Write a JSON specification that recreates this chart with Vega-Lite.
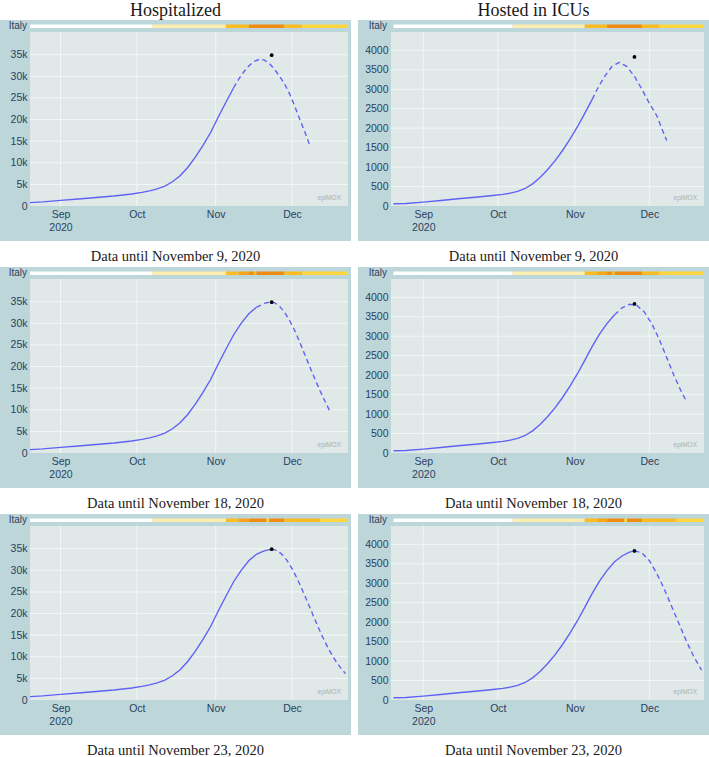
{
"$schema":"https://vega.github.io/schema/vega-lite/v6.json",
"background":"white",
"padding":{"top":2,"left":0,"right":0,"bottom":0},
"datasets":{
"curves":[
{"p":"H1","s":"o","d":"2020-08-20","v":770},{"p":"H1","s":"o","d":"2020-08-25","v":950},{"p":"H1","s":"o","d":"2020-09-01","v":1300},{"p":"H1","s":"o","d":"2020-09-08","v":1620},{"p":"H1","s":"o","d":"2020-09-15","v":1960},{"p":"H1","s":"o","d":"2020-09-22","v":2300},{"p":"H1","s":"o","d":"2020-09-29","v":2780},{"p":"H1","s":"o","d":"2020-10-03","v":3150},{"p":"H1","s":"o","d":"2020-10-06","v":3500},{"p":"H1","s":"o","d":"2020-10-09","v":3950},{"p":"H1","s":"o","d":"2020-10-12","v":4600},{"p":"H1","s":"o","d":"2020-10-15","v":5600},{"p":"H1","s":"o","d":"2020-10-18","v":7000},{"p":"H1","s":"o","d":"2020-10-21","v":8900},{"p":"H1","s":"o","d":"2020-10-24","v":11300},{"p":"H1","s":"o","d":"2020-10-27","v":14000},{"p":"H1","s":"o","d":"2020-10-30","v":17000},{"p":"H1","s":"o","d":"2020-11-02","v":20600},{"p":"H1","s":"o","d":"2020-11-05","v":24000},{"p":"H1","s":"o","d":"2020-11-08","v":27300},
{"p":"H1","s":"f","d":"2020-11-08","v":27300},{"p":"H1","s":"f","d":"2020-11-10","v":29300},{"p":"H1","s":"f","d":"2020-11-12","v":31000},{"p":"H1","s":"f","d":"2020-11-14","v":32400},{"p":"H1","s":"f","d":"2020-11-16","v":33400},{"p":"H1","s":"f","d":"2020-11-18","v":33900},{"p":"H1","s":"f","d":"2020-11-20","v":33800},{"p":"H1","s":"f","d":"2020-11-22","v":33000},{"p":"H1","s":"f","d":"2020-11-24","v":31700},{"p":"H1","s":"f","d":"2020-11-26","v":30100},{"p":"H1","s":"f","d":"2020-11-28","v":28300},{"p":"H1","s":"f","d":"2020-11-30","v":26000},{"p":"H1","s":"f","d":"2020-12-02","v":23200},{"p":"H1","s":"f","d":"2020-12-04","v":20100},{"p":"H1","s":"f","d":"2020-12-06","v":17200},{"p":"H1","s":"f","d":"2020-12-08","v":14000},
{"p":"H2","s":"o","d":"2020-08-20","v":770},{"p":"H2","s":"o","d":"2020-08-25","v":950},{"p":"H2","s":"o","d":"2020-09-01","v":1300},{"p":"H2","s":"o","d":"2020-09-08","v":1620},{"p":"H2","s":"o","d":"2020-09-15","v":1960},{"p":"H2","s":"o","d":"2020-09-22","v":2300},{"p":"H2","s":"o","d":"2020-09-29","v":2780},{"p":"H2","s":"o","d":"2020-10-03","v":3150},{"p":"H2","s":"o","d":"2020-10-06","v":3500},{"p":"H2","s":"o","d":"2020-10-09","v":3950},{"p":"H2","s":"o","d":"2020-10-12","v":4600},{"p":"H2","s":"o","d":"2020-10-15","v":5600},{"p":"H2","s":"o","d":"2020-10-18","v":7000},{"p":"H2","s":"o","d":"2020-10-21","v":8900},{"p":"H2","s":"o","d":"2020-10-24","v":11300},{"p":"H2","s":"o","d":"2020-10-27","v":14000},{"p":"H2","s":"o","d":"2020-10-30","v":17000},{"p":"H2","s":"o","d":"2020-11-02","v":20600},{"p":"H2","s":"o","d":"2020-11-05","v":24000},{"p":"H2","s":"o","d":"2020-11-08","v":27300},{"p":"H2","s":"o","d":"2020-11-11","v":30000},{"p":"H2","s":"o","d":"2020-11-14","v":32200},{"p":"H2","s":"o","d":"2020-11-17","v":33700},
{"p":"H2","s":"f","d":"2020-11-17","v":33700},{"p":"H2","s":"f","d":"2020-11-20","v":34600},{"p":"H2","s":"f","d":"2020-11-22","v":34900},{"p":"H2","s":"f","d":"2020-11-24","v":34800},{"p":"H2","s":"f","d":"2020-11-26","v":34000},{"p":"H2","s":"f","d":"2020-11-28","v":32600},{"p":"H2","s":"f","d":"2020-11-30","v":30700},{"p":"H2","s":"f","d":"2020-12-02","v":28400},{"p":"H2","s":"f","d":"2020-12-04","v":25700},{"p":"H2","s":"f","d":"2020-12-06","v":22800},{"p":"H2","s":"f","d":"2020-12-08","v":19900},{"p":"H2","s":"f","d":"2020-12-10","v":17100},{"p":"H2","s":"f","d":"2020-12-12","v":14400},{"p":"H2","s":"f","d":"2020-12-14","v":11900},{"p":"H2","s":"f","d":"2020-12-16","v":9500},
{"p":"H3","s":"o","d":"2020-08-20","v":770},{"p":"H3","s":"o","d":"2020-08-25","v":950},{"p":"H3","s":"o","d":"2020-09-01","v":1300},{"p":"H3","s":"o","d":"2020-09-08","v":1620},{"p":"H3","s":"o","d":"2020-09-15","v":1960},{"p":"H3","s":"o","d":"2020-09-22","v":2300},{"p":"H3","s":"o","d":"2020-09-29","v":2780},{"p":"H3","s":"o","d":"2020-10-03","v":3150},{"p":"H3","s":"o","d":"2020-10-06","v":3500},{"p":"H3","s":"o","d":"2020-10-09","v":3950},{"p":"H3","s":"o","d":"2020-10-12","v":4600},{"p":"H3","s":"o","d":"2020-10-15","v":5600},{"p":"H3","s":"o","d":"2020-10-18","v":7000},{"p":"H3","s":"o","d":"2020-10-21","v":8900},{"p":"H3","s":"o","d":"2020-10-24","v":11300},{"p":"H3","s":"o","d":"2020-10-27","v":14000},{"p":"H3","s":"o","d":"2020-10-30","v":17000},{"p":"H3","s":"o","d":"2020-11-02","v":20600},{"p":"H3","s":"o","d":"2020-11-05","v":24000},{"p":"H3","s":"o","d":"2020-11-08","v":27300},{"p":"H3","s":"o","d":"2020-11-11","v":30000},{"p":"H3","s":"o","d":"2020-11-14","v":32200},{"p":"H3","s":"o","d":"2020-11-17","v":33700},{"p":"H3","s":"o","d":"2020-11-20","v":34500},{"p":"H3","s":"o","d":"2020-11-23","v":34900},
{"p":"H3","s":"f","d":"2020-11-23","v":34900},{"p":"H3","s":"f","d":"2020-11-25","v":34600},{"p":"H3","s":"f","d":"2020-11-27","v":33700},{"p":"H3","s":"f","d":"2020-11-29","v":32300},{"p":"H3","s":"f","d":"2020-12-01","v":30400},{"p":"H3","s":"f","d":"2020-12-03","v":28100},{"p":"H3","s":"f","d":"2020-12-05","v":25500},{"p":"H3","s":"f","d":"2020-12-07","v":22800},{"p":"H3","s":"f","d":"2020-12-09","v":20000},{"p":"H3","s":"f","d":"2020-12-11","v":17200},{"p":"H3","s":"f","d":"2020-12-13","v":14600},{"p":"H3","s":"f","d":"2020-12-15","v":12200},{"p":"H3","s":"f","d":"2020-12-17","v":10100},{"p":"H3","s":"f","d":"2020-12-19","v":8300},{"p":"H3","s":"f","d":"2020-12-21","v":6800},{"p":"H3","s":"f","d":"2020-12-22","v":6100},
{"p":"I1","s":"o","d":"2020-08-20","v":58},{"p":"I1","s":"o","d":"2020-08-25","v":66},{"p":"I1","s":"o","d":"2020-09-01","v":100},{"p":"I1","s":"o","d":"2020-09-08","v":140},{"p":"I1","s":"o","d":"2020-09-15","v":185},{"p":"I1","s":"o","d":"2020-09-22","v":225},{"p":"I1","s":"o","d":"2020-09-29","v":270},{"p":"I1","s":"o","d":"2020-10-03","v":300},{"p":"I1","s":"o","d":"2020-10-06","v":330},{"p":"I1","s":"o","d":"2020-10-09","v":375},{"p":"I1","s":"o","d":"2020-10-12","v":450},{"p":"I1","s":"o","d":"2020-10-15","v":570},{"p":"I1","s":"o","d":"2020-10-18","v":730},{"p":"I1","s":"o","d":"2020-10-21","v":930},{"p":"I1","s":"o","d":"2020-10-24","v":1160},{"p":"I1","s":"o","d":"2020-10-27","v":1420},{"p":"I1","s":"o","d":"2020-10-30","v":1710},{"p":"I1","s":"o","d":"2020-11-02","v":2030},{"p":"I1","s":"o","d":"2020-11-05","v":2380},{"p":"I1","s":"o","d":"2020-11-08","v":2740},
{"p":"I1","s":"f","d":"2020-11-08","v":2740},{"p":"I1","s":"f","d":"2020-11-10","v":3000},{"p":"I1","s":"f","d":"2020-11-13","v":3330},{"p":"I1","s":"f","d":"2020-11-16","v":3590},{"p":"I1","s":"f","d":"2020-11-19","v":3690},{"p":"I1","s":"f","d":"2020-11-22","v":3580},{"p":"I1","s":"f","d":"2020-11-25","v":3330},{"p":"I1","s":"f","d":"2020-11-28","v":3000},{"p":"I1","s":"f","d":"2020-12-01","v":2640},{"p":"I1","s":"f","d":"2020-12-04","v":2320},{"p":"I1","s":"f","d":"2020-12-06","v":1990},{"p":"I1","s":"f","d":"2020-12-08","v":1680},
{"p":"I2","s":"o","d":"2020-08-20","v":58},{"p":"I2","s":"o","d":"2020-08-25","v":66},{"p":"I2","s":"o","d":"2020-09-01","v":100},{"p":"I2","s":"o","d":"2020-09-08","v":140},{"p":"I2","s":"o","d":"2020-09-15","v":185},{"p":"I2","s":"o","d":"2020-09-22","v":225},{"p":"I2","s":"o","d":"2020-09-29","v":270},{"p":"I2","s":"o","d":"2020-10-03","v":300},{"p":"I2","s":"o","d":"2020-10-06","v":330},{"p":"I2","s":"o","d":"2020-10-09","v":375},{"p":"I2","s":"o","d":"2020-10-12","v":450},{"p":"I2","s":"o","d":"2020-10-15","v":570},{"p":"I2","s":"o","d":"2020-10-18","v":730},{"p":"I2","s":"o","d":"2020-10-21","v":930},{"p":"I2","s":"o","d":"2020-10-24","v":1160},{"p":"I2","s":"o","d":"2020-10-27","v":1420},{"p":"I2","s":"o","d":"2020-10-30","v":1710},{"p":"I2","s":"o","d":"2020-11-02","v":2030},{"p":"I2","s":"o","d":"2020-11-05","v":2380},{"p":"I2","s":"o","d":"2020-11-08","v":2740},{"p":"I2","s":"o","d":"2020-11-11","v":3060},{"p":"I2","s":"o","d":"2020-11-14","v":3330},{"p":"I2","s":"o","d":"2020-11-17","v":3550},
{"p":"I2","s":"f","d":"2020-11-17","v":3550},{"p":"I2","s":"f","d":"2020-11-20","v":3730},{"p":"I2","s":"f","d":"2020-11-23","v":3820},{"p":"I2","s":"f","d":"2020-11-26","v":3790},{"p":"I2","s":"f","d":"2020-11-29","v":3620},{"p":"I2","s":"f","d":"2020-12-02","v":3320},{"p":"I2","s":"f","d":"2020-12-05","v":2920},{"p":"I2","s":"f","d":"2020-12-08","v":2450},{"p":"I2","s":"f","d":"2020-12-11","v":1980},{"p":"I2","s":"f","d":"2020-12-14","v":1560},{"p":"I2","s":"f","d":"2020-12-16","v":1320},
{"p":"I3","s":"o","d":"2020-08-20","v":58},{"p":"I3","s":"o","d":"2020-08-25","v":66},{"p":"I3","s":"o","d":"2020-09-01","v":100},{"p":"I3","s":"o","d":"2020-09-08","v":140},{"p":"I3","s":"o","d":"2020-09-15","v":185},{"p":"I3","s":"o","d":"2020-09-22","v":225},{"p":"I3","s":"o","d":"2020-09-29","v":270},{"p":"I3","s":"o","d":"2020-10-03","v":300},{"p":"I3","s":"o","d":"2020-10-06","v":330},{"p":"I3","s":"o","d":"2020-10-09","v":375},{"p":"I3","s":"o","d":"2020-10-12","v":450},{"p":"I3","s":"o","d":"2020-10-15","v":570},{"p":"I3","s":"o","d":"2020-10-18","v":730},{"p":"I3","s":"o","d":"2020-10-21","v":930},{"p":"I3","s":"o","d":"2020-10-24","v":1160},{"p":"I3","s":"o","d":"2020-10-27","v":1420},{"p":"I3","s":"o","d":"2020-10-30","v":1710},{"p":"I3","s":"o","d":"2020-11-02","v":2030},{"p":"I3","s":"o","d":"2020-11-05","v":2380},{"p":"I3","s":"o","d":"2020-11-08","v":2740},{"p":"I3","s":"o","d":"2020-11-11","v":3060},{"p":"I3","s":"o","d":"2020-11-14","v":3330},{"p":"I3","s":"o","d":"2020-11-17","v":3550},{"p":"I3","s":"o","d":"2020-11-20","v":3700},{"p":"I3","s":"o","d":"2020-11-23","v":3800},{"p":"I3","s":"o","d":"2020-11-25","v":3830},
{"p":"I3","s":"f","d":"2020-11-25","v":3830},{"p":"I3","s":"f","d":"2020-11-28","v":3780},{"p":"I3","s":"f","d":"2020-12-01","v":3580},{"p":"I3","s":"f","d":"2020-12-04","v":3250},{"p":"I3","s":"f","d":"2020-12-07","v":2850},{"p":"I3","s":"f","d":"2020-12-10","v":2400},{"p":"I3","s":"f","d":"2020-12-13","v":1950},{"p":"I3","s":"f","d":"2020-12-16","v":1500},{"p":"I3","s":"f","d":"2020-12-19","v":1100},{"p":"I3","s":"f","d":"2020-12-22","v":770}
],
"peaks":[
{"p":"H","d":"2020-11-23","v":34900},{"p":"I","d":"2020-11-25","v":3830}
],
"strips":[
{"r":1,"a":"2020-08-20","b":"2020-10-07","k":"w"},{"r":1,"a":"2020-10-07","b":"2020-11-05","k":"p"},{"r":1,"a":"2020-11-05","b":"2020-11-14","k":"a"},{"r":1,"a":"2020-11-14","b":"2020-11-28","k":"d"},{"r":1,"a":"2020-11-28","b":"2020-12-05","k":"a"},{"r":1,"a":"2020-12-05","b":"2020-12-23","k":"y"},
{"r":2,"a":"2020-08-20","b":"2020-10-07","k":"w"},{"r":2,"a":"2020-10-07","b":"2020-11-05","k":"p"},{"r":2,"a":"2020-11-05","b":"2020-11-10","k":"a"},{"r":2,"a":"2020-11-10","b":"2020-11-14","k":"o"},{"r":2,"a":"2020-11-14","b":"2020-11-16","k":"d"},{"r":2,"a":"2020-11-16","b":"2020-11-17","k":"a"},{"r":2,"a":"2020-11-17","b":"2020-11-28","k":"d"},{"r":2,"a":"2020-11-28","b":"2020-12-05","k":"a"},{"r":2,"a":"2020-12-05","b":"2020-12-23","k":"y"},
{"r":3,"a":"2020-08-20","b":"2020-10-07","k":"w"},{"r":3,"a":"2020-10-07","b":"2020-11-05","k":"p"},{"r":3,"a":"2020-11-05","b":"2020-11-10","k":"a"},{"r":3,"a":"2020-11-10","b":"2020-11-14","k":"o"},{"r":3,"a":"2020-11-14","b":"2020-11-21","k":"d"},{"r":3,"a":"2020-11-21","b":"2020-11-22","k":"y"},{"r":3,"a":"2020-11-22","b":"2020-11-28","k":"d"},{"r":3,"a":"2020-11-28","b":"2020-12-12","k":"a"},{"r":3,"a":"2020-12-12","b":"2020-12-23","k":"y"}
]
},
"config":{
"view":{"stroke":null},
"title":{"font":"Liberation Serif","fontWeight":"normal","color":"#1a1a1a","anchor":"middle"},
"text":{"font":"Liberation Sans"},
"axis":{"labelOverlap":false,"labelBound":false}
},
"spacing":7,
"hconcat":[
{"title":{"text":"Hospitalized","fontSize":18,"offset":0},"spacing":3,
"vconcat":[
{"width":351,"height":221,"view":{"fill":"#bdd6da","stroke":null},
"title":{"text":"Data until November 9, 2020","orient":"bottom","fontSize":14.5,"offset":20,"baseline":"alphabetic"},
"resolve":{"scale":{"y":"independent"}},
"layer":[
{"layer":[
{"data":{"values":[{}]},"mark":{"type":"rect","fill":"#e1e8e8"},"encoding":{
"x":{"datum":{"year":2020,"month":8,"date":20,"utc":true},"type":"temporal","scale":{"type":"utc","domain":[{"year":2020,"month":8,"date":20,"utc":true},{"year":2020,"month":12,"date":23,"utc":true}],"range":[30,348]},
"axis":{"orient":"bottom","offset":-35,"values":[{"year":2020,"month":9,"date":1,"utc":true},{"year":2020,"month":10,"date":1,"utc":true},{"year":2020,"month":11,"date":1,"utc":true},{"year":2020,"month":12,"date":1,"utc":true}],"tickCount":20,"labelExpr":"utcFormat(datum.value,'%b')=='Sep' ? ['Sep','2020'] : utcFormat(datum.value,'%b')","domain":false,"ticks":false,"grid":false,"labelPadding":3,"labelFontSize":10.5,"labelFont":"Liberation Sans","labelColor":"#2a3f5f","labelLineHeight":13.5,"labelFlush":false,"labelOverlap":false,"title":null}},
"x2":{"datum":{"year":2020,"month":12,"date":23,"utc":true}},
"y":{"datum":0,"type":"quantitative","scale":{"domain":[0,40250],"range":[186,12],"nice":false,"zero":false}},
"y2":{"datum":40250}}},
{"data":{"values":[{"m":"2020-09-01"},{"m":"2020-10-01"},{"m":"2020-11-01"},{"m":"2020-12-01"}]},"mark":{"type":"rule","color":"#f3f6f6","strokeWidth":1},"encoding":{"x":{"field":"m","type":"temporal"},"y":{"datum":0,"type":"quantitative"},"y2":{"datum":40250}}},
{"data":{"values":[{"t":5000},{"t":10000},{"t":15000},{"t":20000},{"t":25000},{"t":30000},{"t":35000}]},"mark":{"type":"rule","color":"#f3f6f6","strokeWidth":1},"encoding":{"y":{"field":"t","type":"quantitative","axis":{"orient":"left","offset":-30,"values":[0,5000,10000,15000,20000,25000,30000,35000],"tickCount":20,"labelExpr":"datum.value == 0 ? '0' : (datum.value/1000) + 'k'","labelOverlap":false,"domain":false,"ticks":false,"grid":false,"labelPadding":3,"labelFontSize":10.5,"labelFont":"Liberation Sans","labelColor":"#2a3f5f","title":null}},"x":{"datum":{"year":2020,"month":8,"date":20,"utc":true},"type":"temporal"},"x2":{"datum":{"year":2020,"month":12,"date":23,"utc":true}}}},
{"data":{"values":[{}]},"mark":{"type":"text","text":"epiMOX","align":"right","baseline":"bottom","fontSize":6.5,"color":"#a9b1b1","dx":-7,"dy":-5},"encoding":{"x":{"datum":{"year":2020,"month":12,"date":23,"utc":true},"type":"temporal"},"y":{"datum":0,"type":"quantitative"}}},
{"data":{"name":"curves"},"transform":[{"filter":"datum.p=='H1' && datum.s=='o'"}],"mark":{"type":"line","color":"#5f63f5","strokeWidth":1.4},"encoding":{"x":{"field":"d","type":"temporal"},"y":{"field":"v","type":"quantitative"}}},
{"data":{"name":"curves"},"transform":[{"filter":"datum.p=='H1' && datum.s=='f'"}],"mark":{"type":"line","color":"#5f63f5","strokeWidth":1.4,"strokeDash":[5,3.5]},"encoding":{"x":{"field":"d","type":"temporal"},"y":{"field":"v","type":"quantitative"}}},
{"data":{"name":"peaks"},"transform":[{"filter":"datum.p=='H'"}],"mark":{"type":"point","filled":true,"color":"black","size":14,"opacity":1},"encoding":{"x":{"field":"d","type":"temporal"},"y":{"field":"v","type":"quantitative"}}}
]},
{"layer":[
{"data":{"name":"strips"},"transform":[{"filter":"datum.r==1"}],"mark":{"type":"rect"},"encoding":{"x":{"field":"a","type":"temporal"},"x2":{"field":"b"},"y":{"datum":"Italy","type":"nominal","scale":{"range":[4.5,8],"paddingInner":0,"paddingOuter":0},"axis":null},"color":{"field":"k","type":"nominal","scale":{"domain":["w","p","a","o","d","y"],"range":["#ffffff","#fdedb0","#fbbb22","#f8a51c","#f18c13","#fdd640"]},"legend":null}}},
{"data":{"values":[{}]},"mark":{"type":"text","text":"Italy","align":"right","baseline":"middle","dx":-3,"fontSize":10,"color":"#2a3f5f"},"encoding":{"x":{"datum":{"year":2020,"month":8,"date":20,"utc":true},"type":"temporal"},"y":{"datum":"Italy","type":"nominal"}}}
]}
]},
{"width":351,"height":221,"view":{"fill":"#bdd6da","stroke":null},
"title":{"text":"Data until November 18, 2020","orient":"bottom","fontSize":14.5,"offset":20,"baseline":"alphabetic"},
"resolve":{"scale":{"y":"independent"}},
"layer":[
{"layer":[
{"data":{"values":[{}]},"mark":{"type":"rect","fill":"#e1e8e8"},"encoding":{
"x":{"datum":{"year":2020,"month":8,"date":20,"utc":true},"type":"temporal","scale":{"type":"utc","domain":[{"year":2020,"month":8,"date":20,"utc":true},{"year":2020,"month":12,"date":23,"utc":true}],"range":[30,348]},
"axis":{"orient":"bottom","offset":-35,"values":[{"year":2020,"month":9,"date":1,"utc":true},{"year":2020,"month":10,"date":1,"utc":true},{"year":2020,"month":11,"date":1,"utc":true},{"year":2020,"month":12,"date":1,"utc":true}],"tickCount":20,"labelExpr":"utcFormat(datum.value,'%b')=='Sep' ? ['Sep','2020'] : utcFormat(datum.value,'%b')","domain":false,"ticks":false,"grid":false,"labelPadding":3,"labelFontSize":10.5,"labelFont":"Liberation Sans","labelColor":"#2a3f5f","labelLineHeight":13.5,"labelFlush":false,"labelOverlap":false,"title":null}},
"x2":{"datum":{"year":2020,"month":12,"date":23,"utc":true}},
"y":{"datum":0,"type":"quantitative","scale":{"domain":[0,40250],"range":[186,12],"nice":false,"zero":false}},
"y2":{"datum":40250}}},
{"data":{"values":[{"m":"2020-09-01"},{"m":"2020-10-01"},{"m":"2020-11-01"},{"m":"2020-12-01"}]},"mark":{"type":"rule","color":"#f3f6f6","strokeWidth":1},"encoding":{"x":{"field":"m","type":"temporal"},"y":{"datum":0,"type":"quantitative"},"y2":{"datum":40250}}},
{"data":{"values":[{"t":5000},{"t":10000},{"t":15000},{"t":20000},{"t":25000},{"t":30000},{"t":35000}]},"mark":{"type":"rule","color":"#f3f6f6","strokeWidth":1},"encoding":{"y":{"field":"t","type":"quantitative","axis":{"orient":"left","offset":-30,"values":[0,5000,10000,15000,20000,25000,30000,35000],"tickCount":20,"labelExpr":"datum.value == 0 ? '0' : (datum.value/1000) + 'k'","labelOverlap":false,"domain":false,"ticks":false,"grid":false,"labelPadding":3,"labelFontSize":10.5,"labelFont":"Liberation Sans","labelColor":"#2a3f5f","title":null}},"x":{"datum":{"year":2020,"month":8,"date":20,"utc":true},"type":"temporal"},"x2":{"datum":{"year":2020,"month":12,"date":23,"utc":true}}}},
{"data":{"values":[{}]},"mark":{"type":"text","text":"epiMOX","align":"right","baseline":"bottom","fontSize":6.5,"color":"#a9b1b1","dx":-7,"dy":-5},"encoding":{"x":{"datum":{"year":2020,"month":12,"date":23,"utc":true},"type":"temporal"},"y":{"datum":0,"type":"quantitative"}}},
{"data":{"name":"curves"},"transform":[{"filter":"datum.p=='H2' && datum.s=='o'"}],"mark":{"type":"line","color":"#5f63f5","strokeWidth":1.4},"encoding":{"x":{"field":"d","type":"temporal"},"y":{"field":"v","type":"quantitative"}}},
{"data":{"name":"curves"},"transform":[{"filter":"datum.p=='H2' && datum.s=='f'"}],"mark":{"type":"line","color":"#5f63f5","strokeWidth":1.4,"strokeDash":[5,3.5]},"encoding":{"x":{"field":"d","type":"temporal"},"y":{"field":"v","type":"quantitative"}}},
{"data":{"name":"peaks"},"transform":[{"filter":"datum.p=='H'"}],"mark":{"type":"point","filled":true,"color":"black","size":14,"opacity":1},"encoding":{"x":{"field":"d","type":"temporal"},"y":{"field":"v","type":"quantitative"}}}
]},
{"layer":[
{"data":{"name":"strips"},"transform":[{"filter":"datum.r==2"}],"mark":{"type":"rect"},"encoding":{"x":{"field":"a","type":"temporal"},"x2":{"field":"b"},"y":{"datum":"Italy","type":"nominal","scale":{"range":[4.5,8],"paddingInner":0,"paddingOuter":0},"axis":null},"color":{"field":"k","type":"nominal","scale":{"domain":["w","p","a","o","d","y"],"range":["#ffffff","#fdedb0","#fbbb22","#f8a51c","#f18c13","#fdd640"]},"legend":null}}},
{"data":{"values":[{}]},"mark":{"type":"text","text":"Italy","align":"right","baseline":"middle","dx":-3,"fontSize":10,"color":"#2a3f5f"},"encoding":{"x":{"datum":{"year":2020,"month":8,"date":20,"utc":true},"type":"temporal"},"y":{"datum":"Italy","type":"nominal"}}}
]}
]},
{"width":351,"height":221,"view":{"fill":"#bdd6da","stroke":null},
"title":{"text":"Data until November 23, 2020","orient":"bottom","fontSize":14.5,"offset":20,"baseline":"alphabetic"},
"resolve":{"scale":{"y":"independent"}},
"layer":[
{"layer":[
{"data":{"values":[{}]},"mark":{"type":"rect","fill":"#e1e8e8"},"encoding":{
"x":{"datum":{"year":2020,"month":8,"date":20,"utc":true},"type":"temporal","scale":{"type":"utc","domain":[{"year":2020,"month":8,"date":20,"utc":true},{"year":2020,"month":12,"date":23,"utc":true}],"range":[30,348]},
"axis":{"orient":"bottom","offset":-35,"values":[{"year":2020,"month":9,"date":1,"utc":true},{"year":2020,"month":10,"date":1,"utc":true},{"year":2020,"month":11,"date":1,"utc":true},{"year":2020,"month":12,"date":1,"utc":true}],"tickCount":20,"labelExpr":"utcFormat(datum.value,'%b')=='Sep' ? ['Sep','2020'] : utcFormat(datum.value,'%b')","domain":false,"ticks":false,"grid":false,"labelPadding":3,"labelFontSize":10.5,"labelFont":"Liberation Sans","labelColor":"#2a3f5f","labelLineHeight":13.5,"labelFlush":false,"labelOverlap":false,"title":null}},
"x2":{"datum":{"year":2020,"month":12,"date":23,"utc":true}},
"y":{"datum":0,"type":"quantitative","scale":{"domain":[0,40250],"range":[186,12],"nice":false,"zero":false}},
"y2":{"datum":40250}}},
{"data":{"values":[{"m":"2020-09-01"},{"m":"2020-10-01"},{"m":"2020-11-01"},{"m":"2020-12-01"}]},"mark":{"type":"rule","color":"#f3f6f6","strokeWidth":1},"encoding":{"x":{"field":"m","type":"temporal"},"y":{"datum":0,"type":"quantitative"},"y2":{"datum":40250}}},
{"data":{"values":[{"t":5000},{"t":10000},{"t":15000},{"t":20000},{"t":25000},{"t":30000},{"t":35000}]},"mark":{"type":"rule","color":"#f3f6f6","strokeWidth":1},"encoding":{"y":{"field":"t","type":"quantitative","axis":{"orient":"left","offset":-30,"values":[0,5000,10000,15000,20000,25000,30000,35000],"tickCount":20,"labelExpr":"datum.value == 0 ? '0' : (datum.value/1000) + 'k'","labelOverlap":false,"domain":false,"ticks":false,"grid":false,"labelPadding":3,"labelFontSize":10.5,"labelFont":"Liberation Sans","labelColor":"#2a3f5f","title":null}},"x":{"datum":{"year":2020,"month":8,"date":20,"utc":true},"type":"temporal"},"x2":{"datum":{"year":2020,"month":12,"date":23,"utc":true}}}},
{"data":{"values":[{}]},"mark":{"type":"text","text":"epiMOX","align":"right","baseline":"bottom","fontSize":6.5,"color":"#a9b1b1","dx":-7,"dy":-5},"encoding":{"x":{"datum":{"year":2020,"month":12,"date":23,"utc":true},"type":"temporal"},"y":{"datum":0,"type":"quantitative"}}},
{"data":{"name":"curves"},"transform":[{"filter":"datum.p=='H3' && datum.s=='o'"}],"mark":{"type":"line","color":"#5f63f5","strokeWidth":1.4},"encoding":{"x":{"field":"d","type":"temporal"},"y":{"field":"v","type":"quantitative"}}},
{"data":{"name":"curves"},"transform":[{"filter":"datum.p=='H3' && datum.s=='f'"}],"mark":{"type":"line","color":"#5f63f5","strokeWidth":1.4,"strokeDash":[5,3.5]},"encoding":{"x":{"field":"d","type":"temporal"},"y":{"field":"v","type":"quantitative"}}},
{"data":{"name":"peaks"},"transform":[{"filter":"datum.p=='H'"}],"mark":{"type":"point","filled":true,"color":"black","size":14,"opacity":1},"encoding":{"x":{"field":"d","type":"temporal"},"y":{"field":"v","type":"quantitative"}}}
]},
{"layer":[
{"data":{"name":"strips"},"transform":[{"filter":"datum.r==3"}],"mark":{"type":"rect"},"encoding":{"x":{"field":"a","type":"temporal"},"x2":{"field":"b"},"y":{"datum":"Italy","type":"nominal","scale":{"range":[4.5,8],"paddingInner":0,"paddingOuter":0},"axis":null},"color":{"field":"k","type":"nominal","scale":{"domain":["w","p","a","o","d","y"],"range":["#ffffff","#fdedb0","#fbbb22","#f8a51c","#f18c13","#fdd640"]},"legend":null}}},
{"data":{"values":[{}]},"mark":{"type":"text","text":"Italy","align":"right","baseline":"middle","dx":-3,"fontSize":10,"color":"#2a3f5f"},"encoding":{"x":{"datum":{"year":2020,"month":8,"date":20,"utc":true},"type":"temporal"},"y":{"datum":"Italy","type":"nominal"}}}
]}
]}
]},
{"title":{"text":"Hosted in ICUs","fontSize":18,"offset":0},"spacing":3,
"vconcat":[
{"width":351,"height":221,"view":{"fill":"#bdd6da","stroke":null},
"title":{"text":"Data until November 9, 2020","orient":"bottom","fontSize":14.5,"offset":20,"baseline":"alphabetic"},
"resolve":{"scale":{"y":"independent"}},
"layer":[
{"layer":[
{"data":{"values":[{}]},"mark":{"type":"rect","fill":"#e1e8e8"},"encoding":{
"x":{"datum":{"year":2020,"month":8,"date":19,"utc":true},"type":"temporal","scale":{"type":"utc","domain":[{"year":2020,"month":8,"date":19,"utc":true},{"year":2020,"month":12,"date":23,"utc":true}],"range":[33,346]},
"axis":{"orient":"bottom","offset":-35,"values":[{"year":2020,"month":9,"date":1,"utc":true},{"year":2020,"month":10,"date":1,"utc":true},{"year":2020,"month":11,"date":1,"utc":true},{"year":2020,"month":12,"date":1,"utc":true}],"tickCount":20,"labelExpr":"utcFormat(datum.value,'%b')=='Sep' ? ['Sep','2020'] : utcFormat(datum.value,'%b')","domain":false,"ticks":false,"grid":false,"labelPadding":3,"labelFontSize":10.5,"labelFont":"Liberation Sans","labelColor":"#2a3f5f","labelLineHeight":13.5,"labelFlush":false,"labelOverlap":false,"title":null}},
"x2":{"datum":{"year":2020,"month":12,"date":23,"utc":true}},
"y":{"datum":0,"type":"quantitative","scale":{"domain":[0,4470],"range":[186,12],"nice":false,"zero":false}},
"y2":{"datum":4470}}},
{"data":{"values":[{"m":"2020-09-01"},{"m":"2020-10-01"},{"m":"2020-11-01"},{"m":"2020-12-01"}]},"mark":{"type":"rule","color":"#f3f6f6","strokeWidth":1},"encoding":{"x":{"field":"m","type":"temporal"},"y":{"datum":0,"type":"quantitative"},"y2":{"datum":4470}}},
{"data":{"values":[{"t":500},{"t":1000},{"t":1500},{"t":2000},{"t":2500},{"t":3000},{"t":3500},{"t":4000}]},"mark":{"type":"rule","color":"#f3f6f6","strokeWidth":1},"encoding":{"y":{"field":"t","type":"quantitative","axis":{"orient":"left","offset":-33,"values":[0,500,1000,1500,2000,2500,3000,3500,4000],"tickCount":20,"format":"d","labelOverlap":false,"domain":false,"ticks":false,"grid":false,"labelPadding":3,"labelFontSize":10.5,"labelFont":"Liberation Sans","labelColor":"#2a3f5f","title":null}},"x":{"datum":{"year":2020,"month":8,"date":19,"utc":true},"type":"temporal"},"x2":{"datum":{"year":2020,"month":12,"date":23,"utc":true}}}},
{"data":{"values":[{}]},"mark":{"type":"text","text":"epiMOX","align":"right","baseline":"bottom","fontSize":6.5,"color":"#a9b1b1","dx":-7,"dy":-5},"encoding":{"x":{"datum":{"year":2020,"month":12,"date":23,"utc":true},"type":"temporal"},"y":{"datum":0,"type":"quantitative"}}},
{"data":{"name":"curves"},"transform":[{"filter":"datum.p=='I1' && datum.s=='o'"}],"mark":{"type":"line","color":"#5f63f5","strokeWidth":1.4},"encoding":{"x":{"field":"d","type":"temporal"},"y":{"field":"v","type":"quantitative"}}},
{"data":{"name":"curves"},"transform":[{"filter":"datum.p=='I1' && datum.s=='f'"}],"mark":{"type":"line","color":"#5f63f5","strokeWidth":1.4,"strokeDash":[5,3.5]},"encoding":{"x":{"field":"d","type":"temporal"},"y":{"field":"v","type":"quantitative"}}},
{"data":{"name":"peaks"},"transform":[{"filter":"datum.p=='I'"}],"mark":{"type":"point","filled":true,"color":"black","size":14,"opacity":1},"encoding":{"x":{"field":"d","type":"temporal"},"y":{"field":"v","type":"quantitative"}}}
]},
{"layer":[
{"data":{"name":"strips"},"transform":[{"filter":"datum.r==1"}],"mark":{"type":"rect"},"encoding":{"x":{"field":"a","type":"temporal"},"x2":{"field":"b"},"y":{"datum":"Italy","type":"nominal","scale":{"range":[4.5,8],"paddingInner":0,"paddingOuter":0},"axis":null},"color":{"field":"k","type":"nominal","scale":{"domain":["w","p","a","o","d","y"],"range":["#ffffff","#fdedb0","#fbbb22","#f8a51c","#f18c13","#fdd640"]},"legend":null}}},
{"data":{"values":[{}]},"mark":{"type":"text","text":"Italy","align":"right","baseline":"middle","dx":-4,"fontSize":10,"color":"#2a3f5f"},"encoding":{"x":{"datum":{"year":2020,"month":8,"date":19,"utc":true},"type":"temporal"},"y":{"datum":"Italy","type":"nominal"}}}
]}
]},
{"width":351,"height":221,"view":{"fill":"#bdd6da","stroke":null},
"title":{"text":"Data until November 18, 2020","orient":"bottom","fontSize":14.5,"offset":20,"baseline":"alphabetic"},
"resolve":{"scale":{"y":"independent"}},
"layer":[
{"layer":[
{"data":{"values":[{}]},"mark":{"type":"rect","fill":"#e1e8e8"},"encoding":{
"x":{"datum":{"year":2020,"month":8,"date":19,"utc":true},"type":"temporal","scale":{"type":"utc","domain":[{"year":2020,"month":8,"date":19,"utc":true},{"year":2020,"month":12,"date":23,"utc":true}],"range":[33,346]},
"axis":{"orient":"bottom","offset":-35,"values":[{"year":2020,"month":9,"date":1,"utc":true},{"year":2020,"month":10,"date":1,"utc":true},{"year":2020,"month":11,"date":1,"utc":true},{"year":2020,"month":12,"date":1,"utc":true}],"tickCount":20,"labelExpr":"utcFormat(datum.value,'%b')=='Sep' ? ['Sep','2020'] : utcFormat(datum.value,'%b')","domain":false,"ticks":false,"grid":false,"labelPadding":3,"labelFontSize":10.5,"labelFont":"Liberation Sans","labelColor":"#2a3f5f","labelLineHeight":13.5,"labelFlush":false,"labelOverlap":false,"title":null}},
"x2":{"datum":{"year":2020,"month":12,"date":23,"utc":true}},
"y":{"datum":0,"type":"quantitative","scale":{"domain":[0,4470],"range":[186,12],"nice":false,"zero":false}},
"y2":{"datum":4470}}},
{"data":{"values":[{"m":"2020-09-01"},{"m":"2020-10-01"},{"m":"2020-11-01"},{"m":"2020-12-01"}]},"mark":{"type":"rule","color":"#f3f6f6","strokeWidth":1},"encoding":{"x":{"field":"m","type":"temporal"},"y":{"datum":0,"type":"quantitative"},"y2":{"datum":4470}}},
{"data":{"values":[{"t":500},{"t":1000},{"t":1500},{"t":2000},{"t":2500},{"t":3000},{"t":3500},{"t":4000}]},"mark":{"type":"rule","color":"#f3f6f6","strokeWidth":1},"encoding":{"y":{"field":"t","type":"quantitative","axis":{"orient":"left","offset":-33,"values":[0,500,1000,1500,2000,2500,3000,3500,4000],"tickCount":20,"format":"d","labelOverlap":false,"domain":false,"ticks":false,"grid":false,"labelPadding":3,"labelFontSize":10.5,"labelFont":"Liberation Sans","labelColor":"#2a3f5f","title":null}},"x":{"datum":{"year":2020,"month":8,"date":19,"utc":true},"type":"temporal"},"x2":{"datum":{"year":2020,"month":12,"date":23,"utc":true}}}},
{"data":{"values":[{}]},"mark":{"type":"text","text":"epiMOX","align":"right","baseline":"bottom","fontSize":6.5,"color":"#a9b1b1","dx":-7,"dy":-5},"encoding":{"x":{"datum":{"year":2020,"month":12,"date":23,"utc":true},"type":"temporal"},"y":{"datum":0,"type":"quantitative"}}},
{"data":{"name":"curves"},"transform":[{"filter":"datum.p=='I2' && datum.s=='o'"}],"mark":{"type":"line","color":"#5f63f5","strokeWidth":1.4},"encoding":{"x":{"field":"d","type":"temporal"},"y":{"field":"v","type":"quantitative"}}},
{"data":{"name":"curves"},"transform":[{"filter":"datum.p=='I2' && datum.s=='f'"}],"mark":{"type":"line","color":"#5f63f5","strokeWidth":1.4,"strokeDash":[5,3.5]},"encoding":{"x":{"field":"d","type":"temporal"},"y":{"field":"v","type":"quantitative"}}},
{"data":{"name":"peaks"},"transform":[{"filter":"datum.p=='I'"}],"mark":{"type":"point","filled":true,"color":"black","size":14,"opacity":1},"encoding":{"x":{"field":"d","type":"temporal"},"y":{"field":"v","type":"quantitative"}}}
]},
{"layer":[
{"data":{"name":"strips"},"transform":[{"filter":"datum.r==2"}],"mark":{"type":"rect"},"encoding":{"x":{"field":"a","type":"temporal"},"x2":{"field":"b"},"y":{"datum":"Italy","type":"nominal","scale":{"range":[4.5,8],"paddingInner":0,"paddingOuter":0},"axis":null},"color":{"field":"k","type":"nominal","scale":{"domain":["w","p","a","o","d","y"],"range":["#ffffff","#fdedb0","#fbbb22","#f8a51c","#f18c13","#fdd640"]},"legend":null}}},
{"data":{"values":[{}]},"mark":{"type":"text","text":"Italy","align":"right","baseline":"middle","dx":-4,"fontSize":10,"color":"#2a3f5f"},"encoding":{"x":{"datum":{"year":2020,"month":8,"date":19,"utc":true},"type":"temporal"},"y":{"datum":"Italy","type":"nominal"}}}
]}
]},
{"width":351,"height":221,"view":{"fill":"#bdd6da","stroke":null},
"title":{"text":"Data until November 23, 2020","orient":"bottom","fontSize":14.5,"offset":20,"baseline":"alphabetic"},
"resolve":{"scale":{"y":"independent"}},
"layer":[
{"layer":[
{"data":{"values":[{}]},"mark":{"type":"rect","fill":"#e1e8e8"},"encoding":{
"x":{"datum":{"year":2020,"month":8,"date":19,"utc":true},"type":"temporal","scale":{"type":"utc","domain":[{"year":2020,"month":8,"date":19,"utc":true},{"year":2020,"month":12,"date":23,"utc":true}],"range":[33,346]},
"axis":{"orient":"bottom","offset":-35,"values":[{"year":2020,"month":9,"date":1,"utc":true},{"year":2020,"month":10,"date":1,"utc":true},{"year":2020,"month":11,"date":1,"utc":true},{"year":2020,"month":12,"date":1,"utc":true}],"tickCount":20,"labelExpr":"utcFormat(datum.value,'%b')=='Sep' ? ['Sep','2020'] : utcFormat(datum.value,'%b')","domain":false,"ticks":false,"grid":false,"labelPadding":3,"labelFontSize":10.5,"labelFont":"Liberation Sans","labelColor":"#2a3f5f","labelLineHeight":13.5,"labelFlush":false,"labelOverlap":false,"title":null}},
"x2":{"datum":{"year":2020,"month":12,"date":23,"utc":true}},
"y":{"datum":0,"type":"quantitative","scale":{"domain":[0,4470],"range":[186,12],"nice":false,"zero":false}},
"y2":{"datum":4470}}},
{"data":{"values":[{"m":"2020-09-01"},{"m":"2020-10-01"},{"m":"2020-11-01"},{"m":"2020-12-01"}]},"mark":{"type":"rule","color":"#f3f6f6","strokeWidth":1},"encoding":{"x":{"field":"m","type":"temporal"},"y":{"datum":0,"type":"quantitative"},"y2":{"datum":4470}}},
{"data":{"values":[{"t":500},{"t":1000},{"t":1500},{"t":2000},{"t":2500},{"t":3000},{"t":3500},{"t":4000}]},"mark":{"type":"rule","color":"#f3f6f6","strokeWidth":1},"encoding":{"y":{"field":"t","type":"quantitative","axis":{"orient":"left","offset":-33,"values":[0,500,1000,1500,2000,2500,3000,3500,4000],"tickCount":20,"format":"d","labelOverlap":false,"domain":false,"ticks":false,"grid":false,"labelPadding":3,"labelFontSize":10.5,"labelFont":"Liberation Sans","labelColor":"#2a3f5f","title":null}},"x":{"datum":{"year":2020,"month":8,"date":19,"utc":true},"type":"temporal"},"x2":{"datum":{"year":2020,"month":12,"date":23,"utc":true}}}},
{"data":{"values":[{}]},"mark":{"type":"text","text":"epiMOX","align":"right","baseline":"bottom","fontSize":6.5,"color":"#a9b1b1","dx":-7,"dy":-5},"encoding":{"x":{"datum":{"year":2020,"month":12,"date":23,"utc":true},"type":"temporal"},"y":{"datum":0,"type":"quantitative"}}},
{"data":{"name":"curves"},"transform":[{"filter":"datum.p=='I3' && datum.s=='o'"}],"mark":{"type":"line","color":"#5f63f5","strokeWidth":1.4},"encoding":{"x":{"field":"d","type":"temporal"},"y":{"field":"v","type":"quantitative"}}},
{"data":{"name":"curves"},"transform":[{"filter":"datum.p=='I3' && datum.s=='f'"}],"mark":{"type":"line","color":"#5f63f5","strokeWidth":1.4,"strokeDash":[5,3.5]},"encoding":{"x":{"field":"d","type":"temporal"},"y":{"field":"v","type":"quantitative"}}},
{"data":{"name":"peaks"},"transform":[{"filter":"datum.p=='I'"}],"mark":{"type":"point","filled":true,"color":"black","size":14,"opacity":1},"encoding":{"x":{"field":"d","type":"temporal"},"y":{"field":"v","type":"quantitative"}}}
]},
{"layer":[
{"data":{"name":"strips"},"transform":[{"filter":"datum.r==3"}],"mark":{"type":"rect"},"encoding":{"x":{"field":"a","type":"temporal"},"x2":{"field":"b"},"y":{"datum":"Italy","type":"nominal","scale":{"range":[4.5,8],"paddingInner":0,"paddingOuter":0},"axis":null},"color":{"field":"k","type":"nominal","scale":{"domain":["w","p","a","o","d","y"],"range":["#ffffff","#fdedb0","#fbbb22","#f8a51c","#f18c13","#fdd640"]},"legend":null}}},
{"data":{"values":[{}]},"mark":{"type":"text","text":"Italy","align":"right","baseline":"middle","dx":-4,"fontSize":10,"color":"#2a3f5f"},"encoding":{"x":{"datum":{"year":2020,"month":8,"date":19,"utc":true},"type":"temporal"},"y":{"datum":"Italy","type":"nominal"}}}
]}
]}
]}
]
}
